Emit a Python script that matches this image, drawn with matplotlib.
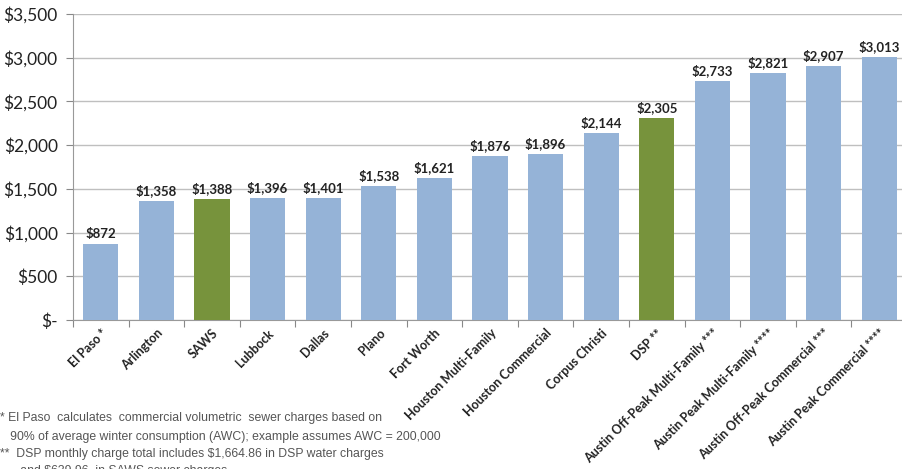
import numpy as np
import matplotlib.pyplot as plt

# --- data ---
categories = ['El Paso *', 'Arlington', 'SAWS', 'Lubbock', 'Dallas', 'Plano',
              'Fort Worth', 'Houston Multi-Family', 'Houston Commercial',
              'Corpus Christi', 'DSP **', 'Austin Off-Peak Multi-Family ***',
              'Austin Peak Multi-Family ****', 'Austin Off-Peak Commercial ***',
              'Austin Peak Commercial ****']
charges = [872, 1358, 1388, 1396, 1401, 1538, 1621, 1876, 1896, 2144,
           2305, 2733, 2821, 2907, 3013]
highlight = ['SAWS', 'DSP **']

yticks = [0, 500, 1000, 1500, 2000, 2500, 3000, 3500]
ytick_labels = ['$-', '$500', '$1,000', '$1,500', '$2,000', '$2,500', '$3,000', '$3,500']

footnotes = [
    '* El Paso  calculates  commercial volumetric  sewer charges based on',
    '   90% of average winter consumption (AWC); example assumes AWC = 200,000',
    '**  DSP monthly charge total includes $1,664.86 in DSP water charges',
    '      and $639.96  in SAWS sewer charges',
]

blue = '#95b3d7'
green = '#77933c'
grid_col = '#bfbfbf'

fig = plt.figure(figsize=(9.02, 4.69), dpi=100)
ax = fig.add_axes([73 / 902, 149 / 469, 834 / 902, 306 / 469])

x = np.arange(len(categories))
colors = [green if c in highlight else blue for c in categories]
ax.bar(x, charges, width=0.63, color=colors, zorder=3)

for xi, v in zip(x, charges):
    ax.text(xi, v + 45, f'${v:,}', ha='center', va='bottom',
            fontsize=9.5, fontweight='bold', family='Lato', color='#222222')

ax.set_xlim(-0.5, len(categories) - 0.5)
ax.set_ylim(0, 3500)
ax.set_yticks(yticks)
ax.set_yticklabels(ytick_labels, family='Lato', fontsize=12.5, color='#222222')
ax.yaxis.grid(True, color=grid_col, linewidth=1, zorder=0)

# Excel-style category ticks between bars
ax.set_xticks(np.arange(-0.5, len(categories), 1.0))
ax.set_xticklabels([])
ax.set_xticks(x, minor=True)
ax.set_xticklabels(categories, minor=True, rotation=45, ha='right', va='top',
                   rotation_mode='anchor', fontsize=9, fontweight='bold',
                   family='Lato', color='#222222')
ax.tick_params(axis='x', which='minor', length=0, pad=5)
ax.tick_params(axis='x', which='major', length=5, color='#888888', direction='out')
ax.tick_params(axis='y', length=5, color='#888888', pad=6)

for side in ['top', 'right']:
    ax.spines[side].set_visible(False)
for side in ['left', 'bottom']:
    ax.spines[side].set_color('#999999')

# footnotes
ys = [418, 437, 454, 471]
for txt, yp in zip(footnotes, ys):
    fig.text(0, 1 - yp / 469, txt, ha='left', va='center',
             fontsize=8.8, family='Liberation Sans', color='#555555')

fig.savefig('out.png', dpi=100)
